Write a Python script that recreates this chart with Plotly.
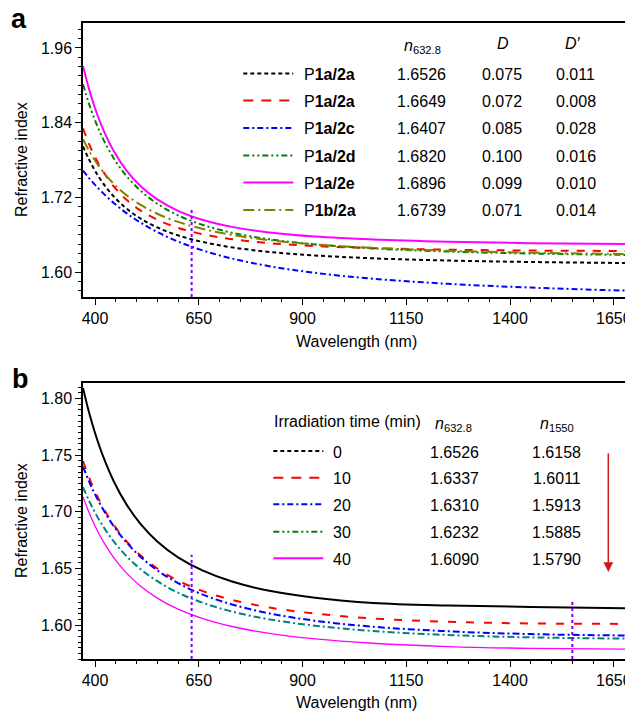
import plotly.graph_objects as go

# ---------------- data ----------------
WAVELENGTH_NM = [371, 385, 400, 420, 445, 475, 510, 550, 600, 660, 730, 820, 930, 1070, 1250, 1450, 1689]

# panel a: refractive index of the polymers
A_P1A2A = [1.8019, 1.7814, 1.7627, 1.742, 1.7215, 1.7025, 1.6858, 1.6717, 1.659, 1.6483, 1.6397, 1.6324, 1.6267, 1.6221, 1.6186, 1.6162, 1.6145]
A_P1A2A_2 = [1.831, 1.8067, 1.7848, 1.761, 1.7377, 1.7167, 1.6987, 1.684, 1.6711, 1.6608, 1.6529, 1.6465, 1.6418, 1.6384, 1.636, 1.6346, 1.6339]
A_P1A2C = [1.7628, 1.7514, 1.7401, 1.7264, 1.7111, 1.6951, 1.6793, 1.6643, 1.649, 1.6347, 1.6218, 1.6095, 1.5988, 1.5894, 1.5812, 1.5751, 1.57]
A_P1A2D = [1.9016, 1.8712, 1.8436, 1.8131, 1.7829, 1.7549, 1.7305, 1.7098, 1.6912, 1.6757, 1.6633, 1.6527, 1.6445, 1.638, 1.633, 1.6298, 1.6275]
A_P1A2E = [1.931, 1.8952, 1.8631, 1.8283, 1.7944, 1.7638, 1.7379, 1.7167, 1.6984, 1.6837, 1.6726, 1.6637, 1.6571, 1.6523, 1.6488, 1.6465, 1.645]
A_P1B2A = [1.8134, 1.7956, 1.7791, 1.7606, 1.7418, 1.724, 1.7078, 1.6937, 1.6806, 1.6692, 1.6597, 1.6513, 1.6444, 1.6388, 1.6343, 1.6312, 1.6289]

A_NAMES = ["P<b>1a/2a</b>", "P<b>1a/2a</b>", "P<b>1a/2c</b>", "P<b>1a/2d</b>", "P<b>1a/2e</b>", "P<b>1b/2a</b>"]
A_N632 = ["1.6526", "1.6649", "1.6407", "1.6820", "1.6896", "1.6739"]
A_D = ["0.075", "0.072", "0.085", "0.100", "0.099", "0.071"]
A_DP = ["0.011", "0.008", "0.028", "0.016", "0.010", "0.014"]

# panel b: irradiation time series
B_T0 = [1.8094, 1.7886, 1.7696, 1.7484, 1.727, 1.707, 1.6891, 1.6738, 1.6598, 1.648, 1.6384, 1.6302, 1.624, 1.6194, 1.6172, 1.616, 1.6148]
B_T10 = [1.7448, 1.7309, 1.718, 1.7034, 1.6885, 1.6742, 1.6613, 1.6499, 1.6392, 1.6299, 1.6222, 1.6155, 1.6101, 1.6058, 1.6029, 1.6014, 1.601]
B_T20 = [1.74, 1.7273, 1.7154, 1.7017, 1.6873, 1.6733, 1.6601, 1.6483, 1.637, 1.6268, 1.6182, 1.6103, 1.6038, 1.5985, 1.5945, 1.592, 1.5907]
B_T30 = [1.7218, 1.7102, 1.6993, 1.6868, 1.6738, 1.6611, 1.6493, 1.6387, 1.6286, 1.6196, 1.6119, 1.605, 1.5994, 1.5947, 1.5912, 1.5891, 1.588]
B_T40 = [1.7131, 1.6998, 1.6875, 1.6737, 1.6596, 1.6463, 1.6342, 1.6238, 1.614, 1.6056, 1.5987, 1.5926, 1.5877, 1.5839, 1.581, 1.5794, 1.5786]

B_TIMES = ["0", "10", "20", "30", "40"]
B_N632 = ["1.6526", "1.6337", "1.6310", "1.6232", "1.6090"]
B_N1550 = ["1.6158", "1.6011", "1.5913", "1.5885", "1.5790"]

MARK_A = dict(x=[632.8, 632.8], y=[1.56, 1.70])
MARK_B1 = dict(x=[632.8, 632.8], y=[1.57, 1.662])
MARK_B2 = dict(x=[1550, 1550], y=[1.57, 1.621])

X_TICKS = [400, 650, 900, 1150, 1400, 1650]

# ---------------- layout helpers ----------------
# The page body has an 8px default margin, so the figure is drawn 8px smaller
# and every reference pixel position is shifted by OFF.
OFF = 8
W, H = 633 - OFF, 711 - OFF
ML, MT = 83 - OFF, 23 - OFF
MR = W - (630 - OFF)
MB = H - (659 - OFF)
PW, PH = W - ML - MR, H - MT - MB
FONT = "Liberation Sans, Arial, Helvetica, sans-serif"
FS = 16


def fx(px):
    return (px - OFF - ML) / PW


def fy(py):
    return 1 - (py - OFF - MT) / PH


fig = go.Figure()

A_STYLE = [("black", "4px,3px", 2), ("#ff0000", "8px,8px", 2), ("#0000ff", "6px,3px,2px,3px", 2),
           ("#008000", "6px,3px,2px,3px,2px,3px", 2), ("#ff00ff", "solid", 2), ("#808000", "11px,4px,2px,4px", 2)]
for ys, (c, d, w) in zip([A_P1A2A, A_P1A2A_2, A_P1A2C, A_P1A2D, A_P1A2E, A_P1B2A], A_STYLE):
    fig.add_trace(go.Scatter(x=WAVELENGTH_NM, y=ys, mode="lines", xaxis="x", yaxis="y", showlegend=False,
                             line=dict(color=c, dash=d, width=w, shape="spline"), hoverinfo="skip"))

B_STYLE = [("black", "solid", 2), ("#ff0000", "8px,10px", 2), ("#0000ff", "7px,3px,2px,3px", 2),
           ("#008080", "7px,3px,2px,3px", 2), ("#ff00ff", "solid", 1.3)]
for ys, (c, d, w) in zip([B_T0, B_T10, B_T20, B_T30, B_T40], B_STYLE):
    fig.add_trace(go.Scatter(x=WAVELENGTH_NM, y=ys, mode="lines", xaxis="x2", yaxis="y2", showlegend=False,
                             line=dict(color=c, dash=d, width=w, shape="spline"), hoverinfo="skip"))

PURPLE = "#8000ff"
for m, xa, ya in [(MARK_A, "x", "y"), (MARK_B1, "x2", "y2"), (MARK_B2, "x2", "y2")]:
    fig.add_trace(go.Scatter(x=m["x"], y=m["y"], mode="lines", xaxis=xa, yaxis=ya, showlegend=False,
                             line=dict(color=PURPLE, dash="3px,3px", width=2), hoverinfo="skip"))

ax = dict(showline=True, linecolor="black", linewidth=1.5, mirror=True, ticks="outside", ticklen=6, tickwidth=1.2,
          tickcolor="black", showgrid=False, zeroline=False, automargin=False,
          tickfont=dict(family=FONT, size=FS, color="black"))
mn = dict(ticks="outside", ticklen=3, tickwidth=1, tickcolor="black", showgrid=False)
xcommon = dict(range=[371, 1689], tickvals=X_TICKS, minor=dict(dtick=50, tick0=400, **mn), **ax)

fig.update_layout(
    width=W, height=H, margin=dict(l=ML, r=MR, t=MT, b=MB, autoexpand=False), plot_bgcolor="white",
    paper_bgcolor="white", font=dict(family=FONT, color="black"),
    xaxis=dict(domain=[0, 1], anchor="y", **xcommon),
    yaxis=dict(domain=[fy(297), 1], anchor="x", range=[1.56, 2.0], tick0=1.6, dtick=0.12, tickformat=".2f",
               minor=dict(dtick=0.015, tick0=1.6, **mn), **ax),
    xaxis2=dict(domain=[0, 1], anchor="y2", **xcommon),
    yaxis2=dict(domain=[0, fy(382.7)], anchor="x2", range=[1.57, 1.814], tick0=1.6, dtick=0.05, tickformat=".2f",
                minor=dict(dtick=0.005, tick0=1.6, **mn), **ax),
)

annotations = []
shapes = []


def ann(text, px, py, xanchor="center", yanchor="middle", size=FS, **kw):
    annotations.append(dict(text=text, x=fx(px), y=fy(py), xref="paper", yref="paper", xanchor=xanchor,
                            yanchor=yanchor, showarrow=False, font=dict(family=FONT, size=size, color="black"), **kw))


def sample(px0, px1, py, color, dash, width=2):
    shapes.append(dict(type="line", xref="paper", yref="paper", x0=fx(px0), x1=fx(px1), y0=fy(py), y1=fy(py),
                       line=dict(color=color, dash=dash, width=width)))


# panel labels and axis titles
ann("<b>a</b>", 19, 19, size=27)
ann("<b>b</b>", 20, 379, size=27)
ann("Refractive index", 21, 160, textangle=-90)
ann("Refractive index", 21, 521, textangle=-90)
ann("Wavelength (nm)", 356.5, 341.5)
ann("Wavelength (nm)", 356.5, 702)

# panel a table
ann("<i>n</i><sub>632.8</sub>", 422, 46)
ann("<i>D</i>", 502.7, 43)
ann("<i>D′</i>", 573.3, 43)
A_ROWS = [74.5, 101.5, 129, 156.5, 183.5, 211]
A_SAMPLE = [("black", "4px,3px"), ("#ff0000", "10px,8px"), ("#0000ff", "6px,3px,2px,3px"),
            ("#008000", "6px,3px,2px,3px,2px,3px"), ("#ff00ff", "solid"), ("#808000", "11px,4px,2px,4px")]
for i, py in enumerate(A_ROWS):
    sample(243.3, 293.3, py - 1, A_SAMPLE[i][0], A_SAMPLE[i][1])
    ann(A_NAMES[i], 301.7, py, xanchor="left")
    ann(A_N632[i], 421.7, py)
    ann(A_D[i], 501.7, py)
    ann(A_DP[i], 575.7, py)

# panel b table
ann("Irradiation time (min)", 271.7, 421, xanchor="left")
ann("<i>n</i><sub>632.8</sub>", 453.7, 424)
ann("<i>n</i><sub>1550</sub>", 556.7, 424)
B_ROWS = [452, 478.7, 505.3, 532.7, 559.3]
B_SAMPLE = [("black", "4px,3px", 2), ("#ff0000", "10px,8px", 2), ("#0000ff", "6px,3px,2px,3px", 2),
            ("#008000", "6px,3px,2px,3px,2px,3px", 2), ("#ff00ff", "solid", 2)]
for i, py in enumerate(B_ROWS):
    sample(273.3, 323.3, py - 1, *B_SAMPLE[i])
    ann(B_TIMES[i], 330.7, py, xanchor="left")
    ann(B_N632[i], 454.3, py)
    ann(B_N1550[i], 556.7, py)

# red arrow
annotations.append(dict(x=fx(608.3), y=fy(572), xref="paper", yref="paper", text="", showarrow=True,
                        ax=0, ay=-120, arrowhead=2, arrowsize=1.3, arrowwidth=1.5, arrowcolor="#cc1a1a"))

fig.update_layout(annotations=annotations, shapes=shapes)
fig.write_html("out.html")
